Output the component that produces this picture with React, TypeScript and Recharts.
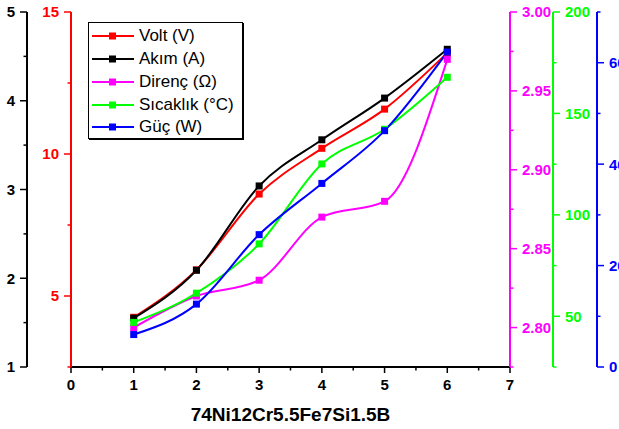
import { Legend, Line, LineChart, XAxis, YAxis } from "recharts";

const xs = [1, 2, 3, 4, 5, 6];
const volt = [4.25, 5.92, 8.59, 10.2, 11.58, 13.56];
const akim = [1.55, 2.09, 3.04, 3.56, 4.03, 4.58];
const direnc = [2.8, 2.82, 2.83, 2.87, 2.88, 2.97];
const sicaklik = [47, 61.4, 85.7, 125.1, 142.2, 167.8];
const guc = [6.4, 12.4, 26.1, 36.2, 46.6, 62.1];

const xTicks = [0, 0.5, 1, 1.5, 2, 2.5, 3, 3.5, 4, 4.5, 5, 5.5, 6, 6.5, 7];
const akimTicks = [1, 1.5, 2, 2.5, 3, 3.5, 4, 4.5, 5];
const voltTicks = [2.5, 5, 7.5, 10, 12.5, 15];
const direncTicks = [2.775, 2.8, 2.825, 2.85, 2.875, 2.9, 2.925, 2.95, 2.975, 3.0];
const sicaklikTicks = [25, 50, 75, 100, 125, 150, 175, 200];
const gucTicks = [0, 10, 20, 30, 40, 50, 60, 70];

const data = xs.map((x, i) => ({
  x,
  volt: volt[i],
  akim: akim[i],
  direnc: direnc[i],
  sicaklik: sicaklik[i],
  guc: guc[i],
}));

const FONT = "'Liberation Sans', Arial, sans-serif";

const near = (v: number, step: number) =>
  Math.abs(v / step - Math.round(v / step)) < 1e-6;

const makeYTick =
  (color: string, side: "left" | "right", major: number, fmt: (v: number) => string) =>
  (props: any) => {
    const { x, y, payload } = props;
    const isMajor = near(payload.value, major);
    const dir = side === "left" ? -1 : 1;
    const len = isMajor ? 7 : 3.5;
    return (
      <g>
        <line x1={x} x2={x + dir * len} y1={y} y2={y} stroke={color} strokeWidth={1.5} />
        {isMajor && (
          <text
            x={x + dir * (len + 5)}
            y={y}
            dy="0.36em"
            textAnchor={side === "left" ? "end" : "start"}
            fill={color}
            fontSize={15}
            fontWeight="bold"
            fontFamily={FONT}
          >
            {fmt(payload.value)}
          </text>
        )}
      </g>
    );
  };

const XTick = (props: any) => {
  const { x, y, payload } = props;
  const isMajor = near(payload.value, 1);
  return (
    <g>
      <line x1={x} x2={x} y1={y} y2={y + (isMajor ? 6 : 3.5)} stroke="#000" strokeWidth={1.5} />
      {isMajor && (
        <text x={x} y={y + 23} textAnchor="middle" fill="#000" fontSize={15} fontWeight="bold" fontFamily={FONT}>
          {payload.value}
        </text>
      )}
    </g>
  );
};

const squareDot = (color: string) => (props: any) => (
  <rect
    key={`${color}-${props.index}`}
    x={props.cx - 3.5}
    y={props.cy - 3.5}
    width={7}
    height={7}
    fill={color}
  />
);

const series = [
  { key: "volt", name: "Volt (V)", color: "#ff0000", axis: "a_volt" },
  { key: "akim", name: "Akım (A)", color: "#000000", axis: "b_akim" },
  { key: "direnc", name: "Direnç (Ω)", color: "#ff00ff", axis: "c_direnc" },
  { key: "sicaklik", name: "Sıcaklık (°C)", color: "#00ff00", axis: "d_sicaklik" },
  { key: "guc", name: "Güç (W)", color: "#0000ff", axis: "e_guc" },
];

const LegendBox = () => (
  <div
    style={{
      width: 155,
      height: 117,
      boxSizing: "border-box",
      border: "1px solid #000",
      boxShadow: "1px 1px 0 #000",
      background: "#fff",
      padding: "2px 0 0 3px",
      fontFamily: FONT,
      fontSize: 17,
      color: "#000",
      textAlign: "left",
    }}
  >
    {series.map((p) => (
      <div key={p.key} style={{ display: "flex", alignItems: "center", height: 22.75 }}>
        <svg width={42} height={10} style={{ marginRight: 5, flex: "none" }}>
          <line x1={0} x2={42} y1={5} y2={5} stroke={p.color} strokeWidth={2} />
          <rect x={17} y={1.5} width={7} height={7} fill={p.color} />
        </svg>
        <span style={{ whiteSpace: "nowrap" }}>{p.name}</span>
      </div>
    ))}
  </div>
);

export default function App() {
  return (
    <div style={{ position: "absolute", left: 0, top: 0, width: 619, height: 429, background: "#fff" }}>
      <LineChart width={619} height={429} data={data} margin={{ top: 12, right: 0, bottom: 0, left: 0 }}>
        <XAxis
          dataKey="x"
          type="number"
          domain={[0, 7]}
          ticks={xTicks}
          interval={0}
          height={62}
          tickSize={0}
          tickMargin={0}
          tickLine={false}
          tick={XTick}
          axisLine={{ stroke: "#000", strokeWidth: 2 }}
          allowDataOverflow
          label={{
            value: "74Ni12Cr5.5Fe7Si1.5B",
            position: "insideBottom",
            offset: 8,
            fill: "#000",
            fontSize: 19,
            fontWeight: "bold",
            fontFamily: FONT,
          }}
        />
        <XAxis
          xAxisId="top"
          orientation="top"
          type="number"
          domain={[0, 7]}
          height={0}
          tick={false}
          tickLine={false}
          axisLine={{ stroke: "#000", strokeWidth: 2 }}
        />
        <YAxis
          yAxisId="a_volt"
          orientation="left"
          width={44}
          type="number"
          domain={[2.5, 15]}
          ticks={voltTicks}
          interval={0}
          allowDataOverflow
          tickSize={0}
          tickMargin={0}
          tickLine={false}
          axisLine={{ stroke: "#ff0000", strokeWidth: 2 }}
          tick={makeYTick("#ff0000", "left", 5, (v) => String(v))}
        />
        <YAxis
          yAxisId="b_akim"
          orientation="left"
          width={27}
          type="number"
          domain={[1, 5]}
          ticks={akimTicks}
          interval={0}
          allowDataOverflow
          tickSize={0}
          tickMargin={0}
          tickLine={false}
          axisLine={{ stroke: "#000", strokeWidth: 2 }}
          tick={makeYTick("#000", "left", 1, (v) => String(v))}
        />
        <YAxis
          yAxisId="c_direnc"
          orientation="right"
          width={43}
          type="number"
          domain={[2.775, 3.0]}
          ticks={direncTicks}
          interval={0}
          allowDataOverflow
          tickSize={0}
          tickMargin={0}
          tickLine={false}
          axisLine={{ stroke: "#ff00ff", strokeWidth: 2 }}
          tick={makeYTick("#ff00ff", "right", 0.05, (v) => v.toFixed(2))}
        />
        <YAxis
          yAxisId="d_sicaklik"
          orientation="right"
          width={44}
          type="number"
          domain={[25, 200]}
          ticks={sicaklikTicks}
          interval={0}
          allowDataOverflow
          tickSize={0}
          tickMargin={0}
          tickLine={false}
          axisLine={{ stroke: "#00ff00", strokeWidth: 2 }}
          tick={makeYTick("#00ff00", "right", 50, (v) => String(v))}
        />
        <YAxis
          yAxisId="e_guc"
          orientation="right"
          width={22}
          type="number"
          domain={[0, 70]}
          ticks={gucTicks}
          interval={0}
          allowDataOverflow
          tickSize={0}
          tickMargin={0}
          tickLine={false}
          axisLine={{ stroke: "#0000ff", strokeWidth: 2 }}
          tick={makeYTick("#0000ff", "right", 20, (v) => String(v))}
        />
        <Legend
          content={LegendBox}
          wrapperStyle={{ position: "absolute", left: 88, top: 22, width: 155, height: 0, overflow: "visible" }}
        />
        {series.map((s) => (
          <Line
            key={s.key}
            yAxisId={s.axis}
            dataKey={s.key}
            name={s.name}
            type="monotone"
            stroke={s.color}
            strokeWidth={2}
            dot={squareDot(s.color)}
            activeDot={false}
            isAnimationActive={false}
          />
        ))}
      </LineChart>
    </div>
  );
}
